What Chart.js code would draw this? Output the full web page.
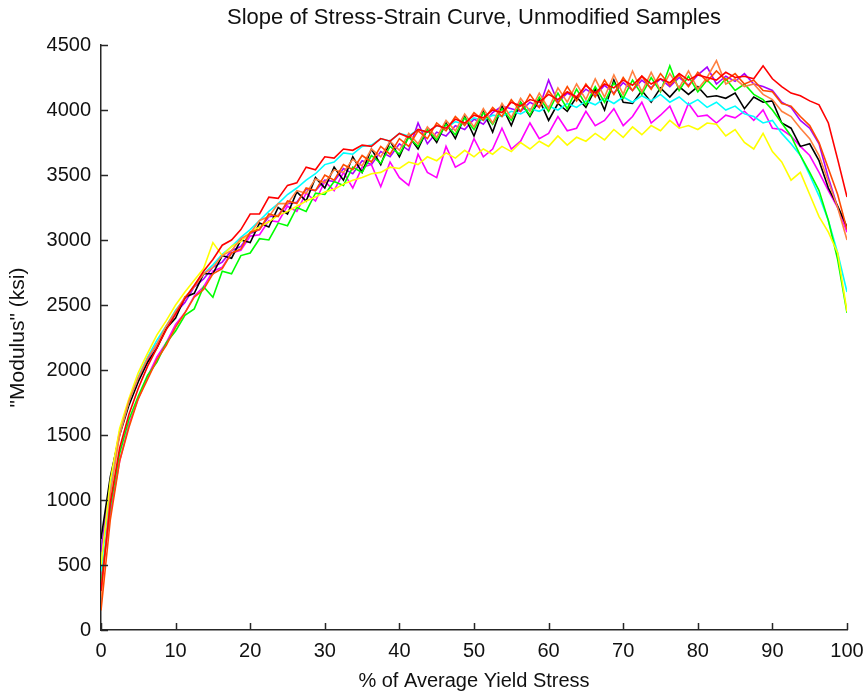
<!DOCTYPE html>
<html>
<head>
<meta charset="utf-8">
<script src="https://cdn.jsdelivr.net/npm/chart.js@4.4.0/dist/chart.umd.min.js"></script>
<style>
  body { margin: 0; background: #fff; }
  #wrap { width: 867px; height: 693px; }
</style>
</head>
<body>
<div id="wrap"><canvas id="myChart"></canvas></div>
<script>
// % of average yield stress (shared x values)
const xPct = [0,1.25,2.5,3.75,5,6.25,7.5,8.75,10,11.25,
  12.5,13.75,15,16.25,17.5,18.75,20,21.25,22.5,23.75,
  25,26.25,27.5,28.75,30,31.25,32.5,33.75,35,36.25,
  37.5,38.75,40,41.25,42.5,43.75,45,46.25,47.5,48.75,
  50,51.25,52.5,53.75,55,56.25,57.5,58.75,60,61.25,
  62.5,63.75,65,66.25,67.5,68.75,70,71.25,72.5,73.75,
  75,76.25,77.5,78.75,80,81.25,82.5,83.75,85,86.25,
  87.5,88.75,90,91.25,92.5,93.75,95,96.25,97.5,98.75,
  100];

// "Modulus" (ksi), one array per sample
const red = [300,980,1400,1660,1860,2030,2170,2310,2430,2550,
  2650,2760,2850,2960,3000,3080,3200,3200,3330,3320,
  3420,3440,3560,3540,3640,3630,3700,3690,3730,3720,
  3780,3760,3820,3790,3850,3830,3880,3860,3930,3900,
  3960,3940,4000,3980,4060,4030,4080,4060,4120,4080,
  4140,4100,4190,4130,4200,4170,4230,4190,4260,4200,
  4240,4210,4280,4230,4270,4250,4230,4290,4250,4260,
  4240,4340,4240,4180,4130,4110,4070,4040,3900,3620,
  3330];
const orangeRed = [150,850,1300,1560,1780,1930,2080,2190,2330,2440,
  2560,2620,2740,2780,2900,2930,3060,3080,3200,3180,
  3300,3280,3400,3380,3500,3460,3580,3540,3650,3600,
  3720,3660,3780,3720,3840,3780,3900,3840,3950,3880,
  3980,3920,4020,3950,4080,3990,4120,4020,4150,4050,
  4180,4070,4200,4100,4230,4120,4250,4150,4260,4160,
  4280,4190,4270,4180,4290,4220,4300,4230,4280,4200,
  4230,4150,4140,4050,4030,3950,3880,3750,3550,3350,
  3080];
const orange = [250,1050,1500,1760,1940,2090,2200,2340,2450,2560,
  2640,2740,2790,2880,2920,3010,3050,3150,3180,3280,
  3280,3380,3360,3470,3440,3540,3520,3620,3570,3700,
  3640,3760,3690,3820,3740,3870,3790,3920,3840,3970,
  3870,4010,3900,4050,3940,4090,3990,4130,4010,4170,
  4060,4200,4080,4240,4100,4270,4120,4300,4140,4290,
  4150,4280,4170,4300,4160,4250,4380,4200,4240,4180,
  4200,4120,4080,3990,3950,3860,3780,3650,3450,3250,
  3000];
const yellow = [500,1150,1550,1780,1980,2130,2270,2380,2500,2600,
  2690,2780,2980,2880,2950,2990,3060,3100,3140,3190,
  3220,3260,3300,3330,3370,3390,3430,3460,3480,3510,
  3520,3560,3550,3600,3580,3640,3610,3670,3630,3690,
  3640,3700,3660,3720,3680,3750,3700,3760,3720,3800,
  3730,3790,3760,3820,3770,3850,3790,3870,3810,3880,
  3840,3920,3860,3880,3850,3900,3890,3800,3850,3750,
  3700,3820,3680,3600,3460,3520,3350,3180,3060,2900,
  2450];
const green = [350,950,1360,1620,1800,1960,2060,2210,2300,2420,
  2470,2640,2560,2760,2740,2880,2900,3010,3000,3130,
  3110,3250,3220,3360,3350,3450,3420,3560,3520,3650,
  3590,3720,3660,3790,3720,3850,3770,3890,3810,3940,
  3850,3980,3890,4010,3920,4060,3960,4100,3990,4130,
  4010,4160,4040,4180,4060,4210,4090,4230,4120,4250,
  4140,4340,4150,4260,4140,4230,4160,4240,4150,4200,
  4120,4080,4000,3900,3800,3650,3520,3380,3150,2850,
  2440];
const cyan = [450,1120,1520,1760,1950,2100,2230,2340,2460,2550,
  2650,2740,2810,2890,2950,3020,3080,3150,3220,3280,
  3350,3400,3460,3510,3580,3600,3670,3660,3720,3730,
  3780,3760,3820,3800,3850,3830,3880,3860,3910,3890,
  3940,3920,3960,3950,3990,3970,4010,3990,4030,4000,
  4050,4020,4070,4040,4090,4050,4100,4060,4110,4070,
  4120,4060,4100,4040,4080,4020,4060,4000,4030,3970,
  3950,3900,3920,3820,3740,3650,3500,3340,3150,2900,
  2600];
const black = [700,1180,1500,1730,1910,2060,2170,2320,2400,2560,
  2590,2740,2740,2880,2860,3000,2980,3130,3100,3250,
  3200,3370,3300,3480,3400,3560,3460,3640,3520,3700,
  3580,3760,3640,3800,3700,3850,3750,3900,3780,3950,
  3800,3990,3830,4030,3880,4060,3950,4080,3920,4050,
  3990,4100,4020,4160,4000,4230,4060,4050,4150,4060,
  4170,4100,4180,4120,4180,4100,4110,4090,4130,4010,
  4100,4060,4070,3900,3860,3720,3740,3610,3400,3260,
  3100];
const magenta = [380,900,1300,1580,1780,1950,2100,2210,2350,2440,
  2570,2640,2760,2790,2900,2920,3030,3040,3150,3140,
  3260,3220,3360,3300,3450,3380,3520,3400,3560,3580,
  3410,3600,3480,3420,3660,3520,3480,3720,3560,3600,
  3780,3640,3700,3860,3700,3760,3900,3780,3820,3950,
  3840,3860,3990,3880,3920,4010,3880,3950,4060,3900,
  3960,4030,3870,4050,3950,3960,3900,3960,3940,3990,
  3920,4000,3860,3850,3800,3720,3650,3520,3380,3250,
  3060];
const purple = [600,1150,1530,1750,1930,2080,2200,2320,2440,2520,
  2640,2700,2790,2830,2920,2950,3050,3080,3180,3190,
  3280,3290,3390,3380,3460,3450,3550,3510,3610,3580,
  3680,3640,3740,3690,3900,3740,3830,3800,3880,3850,
  3930,3890,3980,4030,4010,3990,4060,4020,4230,4060,
  4130,4090,4160,4110,4190,4130,4210,4150,4230,4170,
  4240,4180,4250,4190,4270,4330,4200,4260,4220,4280,
  4200,4180,4150,4060,4020,3920,3860,3740,3480,3250,
  3080];

const samples = [red, orangeRed, orange, yellow, green, cyan, black, magenta, purple];
const colors = ['#ff0000', '#ff4a00', '#ff8040', '#ffff00', '#00ff00', '#00ffff', '#000000', '#ff00ff', '#a800ff'];

const xTicks = [0, 10, 20, 30, 40, 50, 60, 70, 80, 90, 100];
const yTicks = [0, 500, 1000, 1500, 2000, 2500, 3000, 3500, 4000, 4500];

const TITLE = 'Slope of Stress-Strain Curve, Unmodified Samples';
const FONT = '"Liberation Sans", Arial, sans-serif';

// inward tick marks + title centred over the plot, like the original figure
const figureBits = {
  id: 'figureBits',
  afterDraw(chart) {
    const c = chart.ctx, a = chart.chartArea;
    const xs = chart.scales.x, ys = chart.scales.y;
    c.save();
    c.strokeStyle = '#262626';
    c.lineWidth = 1.5;
    c.beginPath();
    xTicks.forEach(v => {
      const px = Math.round(xs.getPixelForValue(v)) + 0.5;
      c.moveTo(px, a.bottom);
      c.lineTo(px, a.bottom - 7);
    });
    yTicks.forEach(v => {
      const py = Math.round(ys.getPixelForValue(v)) + 0.5;
      c.moveTo(a.left, py);
      c.lineTo(a.left + 7, py);
    });
    c.stroke();
    c.fillStyle = '#111';
    c.font = '22px ' + FONT;
    c.textAlign = 'center';
    c.textBaseline = 'middle';
    c.fillText(TITLE, (a.left + a.right) / 2, 18);
    c.restore();
  }
};

const ctx = document.getElementById('myChart');

new Chart(ctx, {
  type: 'line',
  data: {
    datasets: samples.map((s, i) => ({
      data: s.map((y, j) => ({ x: xPct[j], y: y })),
      borderColor: colors[i],
      borderWidth: 1.6,
      pointRadius: 0,
      tension: 0,
      fill: false
    }))
  },
  options: {
    responsive: true,
    maintainAspectRatio: false,
    animation: false,
    layout: { padding: { left: 0, right: 20, top: 45, bottom: 0 } },
    plugins: {
      legend: { display: false },
      tooltip: { enabled: false },
      title: { display: false }
    },
    scales: {
      x: {
        type: 'linear',
        min: 0,
        max: 100,
        afterBuildTicks: s => { s.ticks = xTicks.map(v => ({ value: v })); },
        afterFit: s => { s.height = 63; s.paddingLeft = 0; s.paddingRight = 0; },
        grid: { display: false, drawTicks: false },
        border: { display: true, color: '#262626', width: 1.5 },
        ticks: { color: '#111', padding: 9, maxRotation: 0, font: { family: FONT, size: 20 },
          callback: v => String(v) },
        title: {
          display: true,
          text: '% of Average Yield Stress',
          color: '#111',
          font: { family: FONT, size: 20 },
          padding: { top: 0, bottom: 0 }
        }
      },
      y: {
        min: 0,
        max: 4500,
        afterBuildTicks: s => { s.ticks = yTicks.map(v => ({ value: v })); },
        afterFit: s => { s.width = 101; s.paddingTop = 0; s.paddingBottom = 0; },
        grid: { display: false, drawTicks: false },
        border: { display: true, color: '#262626', width: 1.5 },
        ticks: { color: '#111', padding: 10, font: { family: FONT, size: 20 },
          callback: v => String(v) },
        title: {
          display: true,
          text: '"Modulus" (ksi)',
          color: '#111',
          font: { family: FONT, size: 21 },
          padding: { top: 6, bottom: 0 }
        }
      }
    }
  },
  plugins: [figureBits]
});
</script>
</body>
</html>
